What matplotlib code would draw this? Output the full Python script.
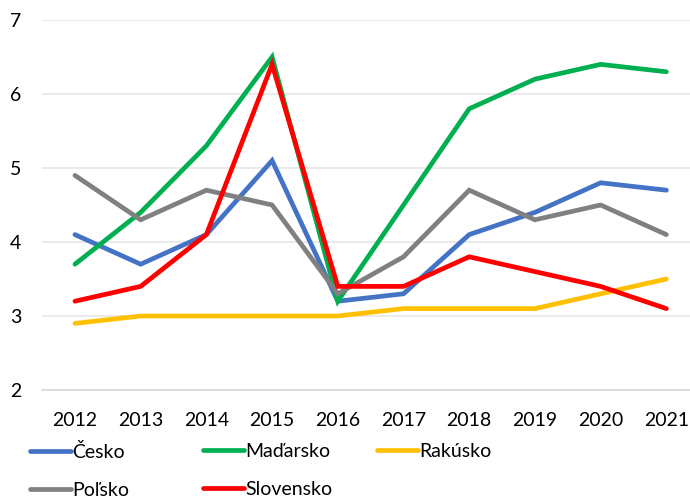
import matplotlib.pyplot as plt

plt.rcParams['font.family'] = ['Lato', 'DejaVu Sans']

years = ["2012", "2013", "2014", "2015", "2016", "2017", "2018", "2019", "2020", "2021"]
cesko = [4.1, 3.7, 4.1, 5.1, 3.2, 3.3, 4.1, 4.4, 4.8, 4.7]
madarsko = [3.7, 4.4, 5.3, 6.5, 3.2, 4.5, 5.8, 6.2, 6.4, 6.3]
rakusko = [2.9, 3.0, 3.0, 3.0, 3.0, 3.1, 3.1, 3.1, 3.3, 3.5]
polsko = [4.9, 4.3, 4.7, 4.5, 3.3, 3.8, 4.7, 4.3, 4.5, 4.1]
slovensko = [3.2, 3.4, 4.1, 6.4, 3.4, 3.4, 3.8, 3.6, 3.4, 3.1]

series = [
    ("Česko", cesko, "#4472C4"),
    ("Maďarsko", madarsko, "#00B050"),
    ("Rakúsko", rakusko, "#FFC000"),
    ("Poľsko", polsko, "#808080"),
    ("Slovensko", slovensko, "#FF0000"),
]

fig = plt.figure(figsize = (6.9, 4.99), dpi = 100)
ax = fig.add_axes([0.061, 0.2184, 0.939, 0.7416])

x = list(range(len(years)))
handles = {}
for name, values, color in series:
    line, = ax.plot(x, values, color = color, linewidth = 3.4, solid_capstyle = "round", solid_joinstyle = "miter", label = name)
    handles[name] = line

ax.set_ylim(2, 7)
ax.set_xlim(-0.5, 9.36)
ax.set_yticks([2, 3, 4, 5, 6, 7])
ax.set_xticks(x)
ax.set_xticklabels(years)
ax.tick_params(length = 0, labelsize = 14)
ax.tick_params(axis = "x", pad = 16)
ax.tick_params(axis = "y", pad = 15)
ax.yaxis.grid(True, color = "#e6e6e6", linewidth = 1.2)
ax.set_axisbelow(True)
for side in ["top", "right", "left"]:
    ax.spines[side].set_visible(False)
ax.spines["bottom"].set_color("#d9d9d9")
ax.spines["bottom"].set_linewidth(1.2)

# legend in three equal columns like the original
columns = [["Česko", "Poľsko"], ["Maďarsko", "Slovensko"], ["Rakúsko"]]
col_x = [0.0435, 0.294, 0.546]
for names, cx in zip(columns, col_x):
    fig.legend([handles[n] for n in names], names, loc = "upper left", bbox_to_anchor = (cx, 0.112),
               frameon = False, fontsize = 14, handlelength = 2.1, handletextpad = 0.08,
               labelspacing = 1.05, borderpad = 0, borderaxespad = 0)

plt.savefig("out.png", dpi = 100)
